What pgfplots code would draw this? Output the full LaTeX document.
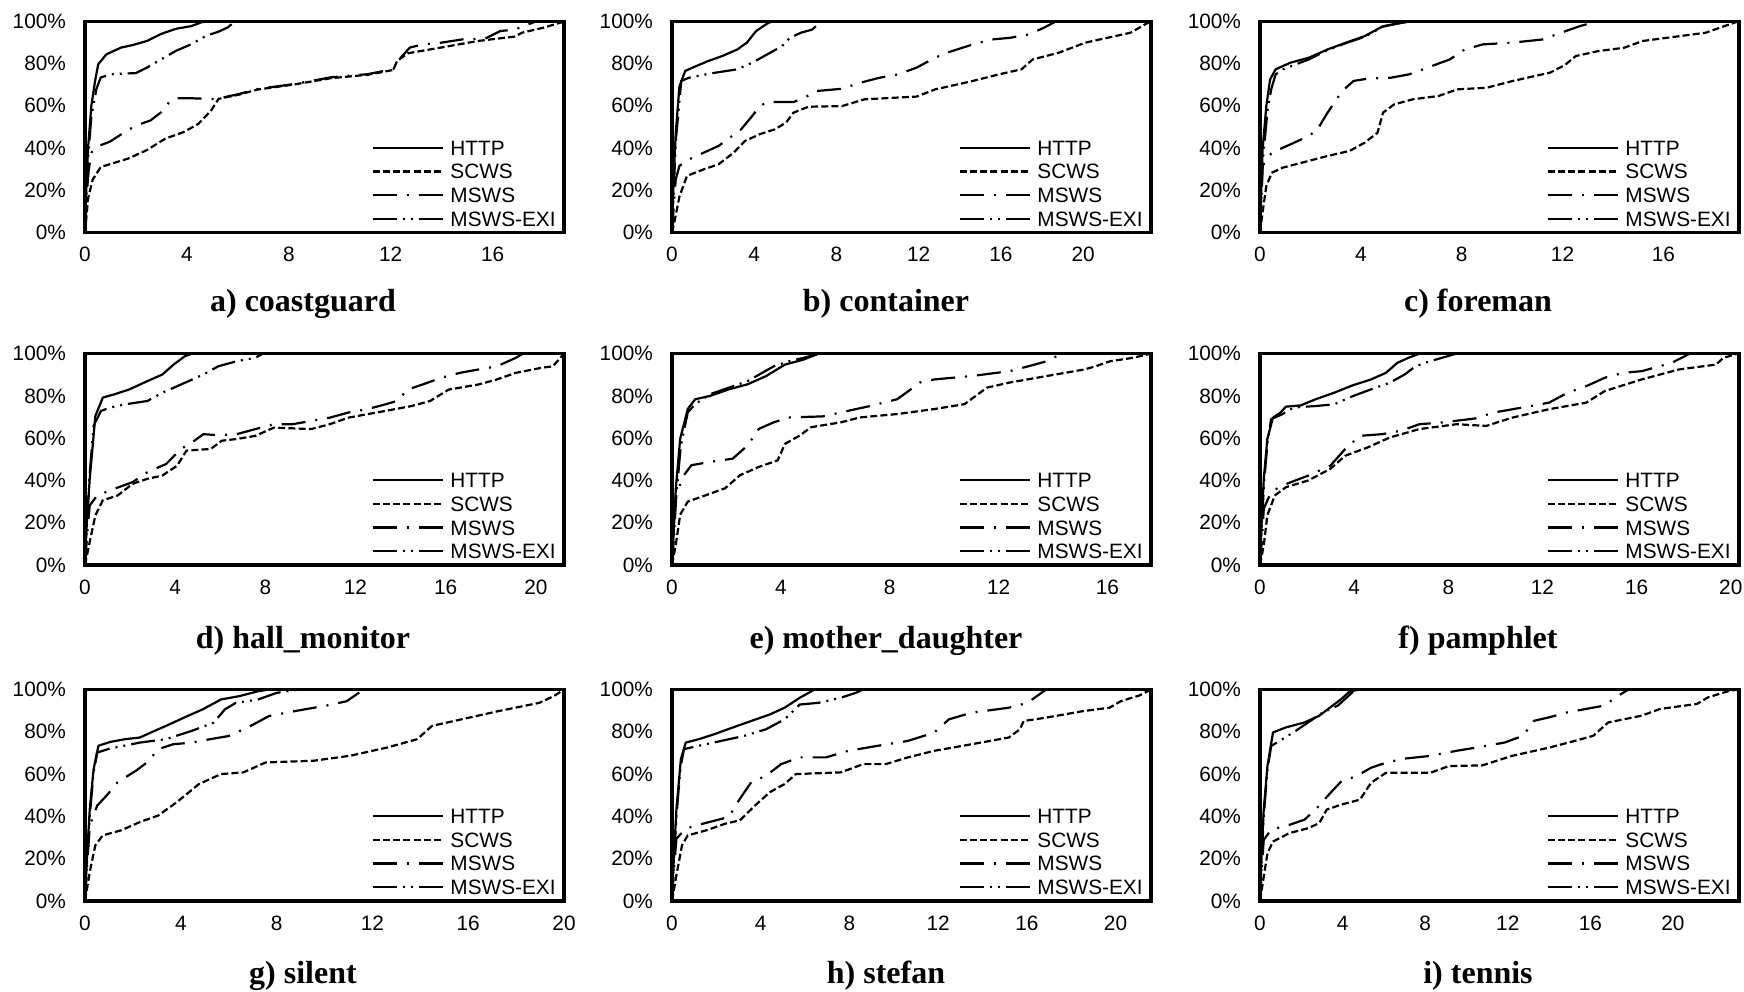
\documentclass[border=0pt]{standalone}
\usepackage{fontspec}
\setmainfont{Liberation Sans}
\newfontfamily\titlefont{Liberation Serif}
\usepackage{pgfplots}
\pgfplotsset{compat=1.18}
\tikzset{
  sHTTP/.style={solid},
  sSCWS/.style={dash pattern=on 3.5pt off 1.6pt},
  sMSWS/.style={dash pattern=on 12pt off 5pt on 1pt off 5pt},
  sEXI/.style={dash pattern=on 12pt off 3pt on 1pt off 3pt on 1pt off 3pt},
  ptitle/.style={anchor=base, font=\titlefont\bfseries\fontsize{16}{18}\selectfont},
}
\pgfplotsset{
  cdf/.style={
    scale only axis, width=239.5pt, height=105.7pt,
    anchor=south west,
    xmin=0, ymin=0, ymax=100,
    ytick={0,20,40,60,80,100},
    xtick distance=4,
    major tick length=0pt,
    axis line style={line width=1.6pt, line cap=rect},
    tick label style={font=\fontsize{10.4}{12}\selectfont},
    yticklabel={\pgfmathprintnumber[assume math mode=true]{\tick}\%},
    xticklabel={\pgfmathprintnumber[assume math mode=true]{\tick}},
    yticklabel style={xshift=-6pt},
    xticklabel style={yshift=-3.9pt},
    legend cell align=left,
    legend style={draw=none, fill=none, at={(1,0)}, anchor=south east,
      inner xsep=4pt, inner ysep=3pt, row sep=4.3pt, column sep=3.3pt,
      font=\fontsize{10.4}{12}\selectfont,
      nodes={inner sep=0pt, text height=7.5pt, text depth=0pt}},
    legend image code/.code={\draw[##1, line width=1.1pt] (0pt,0pt) -- (35pt,0pt);},
    every axis plot/.append style={line width=1.1pt, black, line join=round},
  },
}
\begin{document}
\begin{tikzpicture}
\path[use as bounding box] (0,0) rectangle (872pt,-495.5pt);

% a) coastguard
\begin{axis}[cdf, at={(42.5pt,-116.25pt)}, xmax=18.8]
\addplot[sHTTP] coordinates {(0,0) (0.05,20) (0.12,40) (0.25,60) (0.4,72) (0.52,79.6) (0.84,84.3) (1.42,87.5) (1.85,88.6) (2.43,90.6) (3.0,94) (3.58,96.4) (4.16,97.6) (4.59,99.5) (4.95,100)};
\addlegendentry{HTTP}
\addplot[sSCWS] coordinates {(0,0) (0.12,16) (0.3,25) (0.62,31) (1.7,35) (2.43,39) (3.15,44.4) (3.87,47.5) (4.45,51.4) (4.95,57.7) (5.24,63.2) (6.04,65.2) (6.76,67.6) (8.2,70) (9.65,73) (11.09,74.6) (12.1,76.9) (12.25,81.2) (12.68,84.8) (13.98,87.5) (15.42,90.6) (16.87,92.7) (17.15,94.5) (18.0,96.9) (18.8,99.8)};
\addlegendentry{SCWS}
\addplot[sMSWS] coordinates {(0,0) (0.08,20) (0.15,30) (0.26,38) (0.55,41) (0.98,43) (1.56,47.5) (2.0,50.6) (2.57,53) (3.0,57) (3.3,61.6) (3.58,63.5) (4.16,63.5) (4.88,63.2) (5.17,63.2) (6.04,65.5) (6.76,67.9) (8.2,70.2) (9.65,73.4) (11.09,74.9) (12.1,77.3) (12.4,82.8) (12.75,87.5) (13.26,89) (13.98,89.8) (14.84,91.4) (15.7,91.7) (16.3,95.3) (16.87,96) (17.73,100)};
\addlegendentry{MSWS}
\addplot[sEXI] coordinates {(0,0) (0.05,15) (0.12,35) (0.25,55) (0.45,68) (0.62,73.4) (1.13,75) (2.0,75.4) (2.43,78) (3.0,82) (3.58,86) (4.16,89) (4.74,93) (5.24,95) (5.6,97) (5.9,100)};
\addlegendentry{MSWS-EXI}
\end{axis}

% b) container
\begin{axis}[cdf, at={(336pt,-116.25pt)}, xmax=23.3]
\addplot[sHTTP] coordinates {(0,0) (0.08,25) (0.18,47) (0.36,69) (0.64,76.4) (1.0,78) (1.73,81) (2.45,83.5) (3.18,86.6) (3.64,89.8) (4.09,95.3) (4.64,98.9) (4.9,100)};
\addlegendentry{HTTP}
\addplot[sSCWS] coordinates {(0,0) (0.18,8) (0.36,17) (0.73,26.8) (1.55,29.9) (2.27,32.3) (3.0,37.8) (3.55,43.3) (4.27,46.5) (5.0,48.8) (5.55,52) (5.91,56.7) (6.64,59.5) (8.27,59.8) (9.36,63) (11.9,64.3) (12.8,67.7) (14.64,71.7) (15.9,74.8) (17.0,77.2) (17.55,81.9) (18.8,85) (20.1,89.8) (22.3,94.5) (23.2,99.5) (23.3,100)};
\addlegendentry{SCWS}
\addplot[sMSWS] coordinates {(0,0) (0.08,12) (0.18,25) (0.36,31.5) (0.82,34.6) (1.55,37.8) (2.27,41) (2.82,44.9) (3.36,48.8) (3.9,55.1) (4.27,59.8) (4.64,61.7) (5.91,61.7) (6.45,63.8) (7.0,66.9) (8.27,68) (9.18,70.9) (10.09,73.2) (11.0,74.8) (11.9,78) (12.8,82.7) (13.36,85) (14.64,89) (15.55,91.3) (16.45,92.1) (17.36,93.7) (18.1,96.9) (18.7,100)};
\addlegendentry{MSWS}
\addplot[sEXI] coordinates {(0,0) (0.08,20) (0.2,45) (0.45,71.7) (0.82,73.2) (1.91,75.3) (3.18,77.2) (3.9,80.3) (4.64,84.3) (5.36,88.2) (5.73,92.1) (6.27,94.5) (6.82,96) (7.27,100)};
\addlegendentry{MSWS-EXI}
\end{axis}

% c) foreman
\begin{axis}[cdf, at={(630pt,-116.25pt)}, xmax=19.0]
\addplot[sHTTP] coordinates {(0,0) (0.05,20) (0.1,39) (0.25,59.8) (0.4,72.4) (0.62,77.2) (1.2,80.3) (1.94,82.7) (2.68,86.6) (3.41,89.8) (4.15,92.9) (4.88,97.6) (5.62,99.2) (6.06,100)};
\addlegendentry{HTTP}
\addplot[sSCWS] coordinates {(0,0) (0.1,9.4) (0.25,22) (0.47,28.3) (0.91,30.7) (1.65,33) (2.68,36.2) (3.56,38.6) (4.15,42.5) (4.66,47.2) (4.88,56.7) (5.32,60.6) (6.06,63) (7.09,64.6) (7.82,67.7) (9.0,68.5) (10.03,71.7) (11.5,75.6) (12.09,79.2) (12.53,83.5) (13.41,85.8) (14.44,87.4) (15.18,90.6) (16.65,92.9) (17.68,94.5) (18.41,97.6) (19.0,100)};
\addlegendentry{SCWS}
\addplot[sMSWS] coordinates {(0,0) (0.05,15) (0.1,31.5) (0.47,37.8) (1.06,40.9) (1.65,44.1) (2.24,48) (2.68,56.7) (3.26,66.9) (3.71,71.7) (4.29,72.8) (5.18,73.2) (5.91,74.8) (6.65,78) (7.53,81.9) (8.12,86.6) (8.85,89) (10.0,89.8) (11.2,91.3) (11.94,94.5) (12.68,97.6) (13.4,100)};
\addlegendentry{MSWS}
\addplot[sEXI] coordinates {(0,0) (0.05,15) (0.12,35) (0.3,58) (0.45,68) (0.62,74.8) (0.91,77.2) (1.94,81.9) (2.68,86.3) (3.41,89.6) (4.15,92.6) (4.88,97.4) (5.6,99.2) (6.06,100)};
\addlegendentry{MSWS-EXI}
\end{axis}

% d) hall_monitor
\begin{axis}[cdf, at={(42.5pt,-282.5pt)}, xmax=21.25]
\addplot[sHTTP] coordinates {(0,0) (0.08,20) (0.21,40.8) (0.46,70.5) (0.79,79.2) (1.29,80.7) (1.95,83) (2.77,87) (3.43,90.1) (3.93,94.8) (4.42,98.7) (4.75,100)};
\addlegendentry{HTTP}
\addplot[sSCWS] coordinates {(0,0) (0.21,11) (0.46,23.5) (0.79,30.6) (1.45,32.9) (2.11,38.4) (2.77,40.8) (3.43,42.3) (4.09,47) (4.5,54.1) (5.58,54.9) (6.07,58.8) (6.73,59.6) (7.56,61.1) (8.38,65) (10.03,64.3) (10.86,66.6) (11.68,69.7) (13.33,72.9) (14.49,75.2) (15.31,77.6) (16.14,83) (17.46,85.4) (18.28,87.8) (19.11,90.9) (20.26,93.3) (20.76,94) (21.25,100)};
\addlegendentry{SCWS}
\addplot[sMSWS] coordinates {(0,0) (0.1,15) (0.21,28.2) (0.54,32.9) (1.29,36) (2.11,39.2) (2.77,43.9) (3.6,47.8) (4.26,54.9) (4.75,58) (5.25,61.9) (5.91,61.4) (6.73,61.9) (7.56,64.3) (8.38,66.6) (9.21,66.6) (10.86,69.7) (11.68,72.1) (12.51,73.7) (13.33,76) (13.83,77.6) (14.32,83) (14.98,85.4) (15.81,88.6) (16.63,90.9) (17.46,92.5) (18.28,94) (19.11,98) (19.44,100)};
\addlegendentry{MSWS}
\addplot[sEXI] coordinates {(0,0) (0.08,18) (0.2,42) (0.38,65.8) (0.71,72.9) (1.12,74.5) (1.78,76) (2.77,77.6) (3.43,81.5) (4.26,85.4) (5.25,90.1) (5.91,94) (6.73,96.4) (7.56,98) (7.89,100)};
\addlegendentry{MSWS-EXI}
\end{axis}

% e) mother_daughter
\begin{axis}[cdf, at={(336pt,-282.5pt)}, xmax=17.6]
\addplot[sHTTP] coordinates {(0,0) (0.06,15) (0.14,36.3) (0.3,59.7) (0.58,73.8) (0.85,78.4) (1.4,80) (2.09,83.1) (2.78,85.5) (3.46,89.4) (4.15,94.8) (4.84,97.2) (5.39,100)};
\addlegendentry{HTTP}
\addplot[sSCWS] coordinates {(0,0) (0.14,9.7) (0.3,23.8) (0.58,30) (1.26,33.1) (1.95,36.3) (2.5,42.5) (3.19,46.4) (3.88,49.5) (4.15,57.3) (4.7,61.3) (5.11,65.2) (6.21,67.5) (6.9,69.8) (8.27,71.4) (9.65,73.8) (10.75,76.1) (11.16,80) (11.57,83.9) (12.4,86.3) (13.77,89.4) (15.15,92.5) (15.56,94) (16.1,96.4) (16.93,98) (17.6,100)};
\addlegendentry{SCWS}
\addplot[sMSWS] coordinates {(0,0) (0.06,15) (0.14,33.1) (0.44,42.5) (0.71,47.2) (1.4,48.8) (2.23,50.3) (2.78,56.6) (3.19,64.4) (3.74,67.5) (4.29,69.8) (5.53,70.3) (6.21,72.2) (7.31,75.3) (8.27,78.4) (8.69,82.3) (9.1,86.3) (9.65,87.8) (11.02,89.4) (12.4,91.7) (13.09,94) (13.77,96.4) (14.32,100)};
\addlegendentry{MSWS}
\addplot[sEXI] coordinates {(0,0) (0.06,12) (0.16,33) (0.32,56) (0.58,72.2) (0.85,76.1) (1.4,80.8) (2.09,83.9) (2.78,87) (3.74,94) (4.29,96.4) (4.84,98) (5.39,100)};
\addlegendentry{MSWS-EXI}
\end{axis}

% f) pamphlet
\begin{axis}[cdf, at={(630pt,-282.5pt)}, xmax=20.35]
\addplot[sHTTP] coordinates {(0,0) (0.07,20) (0.16,40.8) (0.31,59.6) (0.55,69.7) (0.87,72.1) (1.1,74.9) (1.73,75.5) (2.36,78.4) (3.15,81.5) (3.94,85) (4.72,87.8) (5.35,90.9) (5.83,95.6) (6.3,98) (6.77,100)};
\addlegendentry{HTTP}
\addplot[sSCWS] coordinates {(0,0) (0.16,9.4) (0.31,23.5) (0.63,32.9) (1.1,36.8) (2.05,40) (2.99,45.5) (3.62,51.7) (4.57,55.6) (5.51,60.3) (6.77,64.3) (8.35,66.6) (9.61,65.8) (10.71,69.7) (12.28,73.7) (13.86,76.8) (14.65,82.3) (16.22,87.8) (17.8,92.5) (19.37,94.8) (19.69,98) (20.3,100)};
\addlegendentry{SCWS}
\addplot[sMSWS] coordinates {(0,0) (0.08,12) (0.16,26.6) (0.47,34.5) (0.94,37.6) (2.05,42.3) (2.99,47) (3.62,54.9) (4.25,61.1) (5.2,61.9) (5.98,63.5) (6.77,66.6) (7.72,67.4) (9.13,69.3) (9.92,72.1) (11.5,75.2) (12.28,76.8) (13.07,81.5) (13.86,84.6) (14.65,88.6) (15.43,90.9) (16.22,91.7) (17.48,95.6) (18.27,100)};
\addlegendentry{MSWS}
\addplot[sEXI] coordinates {(0,0) (0.07,18) (0.18,40) (0.32,58) (0.47,69) (0.94,71.3) (1.42,74.5) (2.36,75.2) (3.15,76) (3.94,79.9) (4.72,83.1) (5.51,86.2) (6.14,90.1) (6.61,94) (7.09,95.9) (7.72,98) (8.35,100)};
\addlegendentry{MSWS-EXI}
\end{axis}

% g) silent
\begin{axis}[cdf, at={(42.5pt,-450.45pt)}, xmax=20.0]
\addplot[sHTTP] coordinates {(0,0) (0.08,20) (0.2,43.6) (0.36,62.4) (0.56,73.4) (1.05,75.2) (1.67,76.5) (2.29,77.3) (2.9,80.4) (3.52,83.5) (4.29,87.5) (4.91,90.6) (5.68,95.3) (6.46,96.9) (7.23,99.2) (7.69,100)};
\addlegendentry{HTTP}
\addplot[sSCWS] coordinates {(0,0) (0.2,13.8) (0.43,26.3) (0.74,31) (1.51,33.4) (2.29,37.3) (3.06,40.4) (3.83,46.7) (4.76,55.3) (5.68,60) (6.61,60.8) (7.54,65.5) (9.54,66.3) (11.09,68.7) (12.63,72.6) (13.87,76.5) (14.49,82.8) (15.72,85.9) (17.27,89.8) (18.97,93.7) (19.58,96.9) (20.0,100)};
\addlegendentry{SCWS}
\addplot[sMSWS] coordinates {(0,0) (0.08,15) (0.2,35.7) (0.51,45.1) (0.9,49.8) (1.36,56.1) (2.13,61.6) (2.59,65.5) (3.06,71.8) (3.68,74.1) (4.45,74.9) (5.22,76.5) (6.0,78) (6.92,82.8) (7.69,87.5) (8.77,89.8) (10.32,92.9) (10.93,94.5) (11.63,100)};
\addlegendentry{MSWS}
\addplot[sEXI] coordinates {(0,0) (0.08,18) (0.2,40) (0.35,60) (0.51,70.2) (1.05,72.1) (2.29,74.9) (3.37,76.5) (4.45,80.4) (5.37,84.3) (5.84,90.6) (6.3,93.7) (7.23,95.3) (8.0,98.4) (8.93,100)};
\addlegendentry{MSWS-EXI}
\end{axis}

% h) stefan
\begin{axis}[cdf, at={(336pt,-450.45pt)}, xmax=21.6]
\addplot[sHTTP] coordinates {(0,0) (0.08,20) (0.2,43.6) (0.4,67.1) (0.62,74.9) (1.21,76.5) (1.89,78.8) (2.73,82) (3.57,85.1) (4.41,88.2) (5.08,91.4) (5.76,96.1) (6.43,100)};
\addlegendentry{HTTP}
\addplot[sSCWS] coordinates {(0,0) (0.2,12.2) (0.45,26.3) (0.71,31) (1.55,33.4) (2.39,36.5) (3.06,38.1) (3.74,45.1) (4.41,51.4) (5.08,55.3) (5.59,60) (7.61,60.8) (8.62,64.7) (9.63,64.7) (10.64,67.9) (11.82,71) (13.5,74.1) (15.19,77.3) (15.69,81.2) (15.86,85.1) (16.87,86.7) (18.55,89.8) (19.73,91.4) (20.24,94.5) (21.08,97.2) (21.6,100)};
\addlegendentry{SCWS}
\addplot[sMSWS] coordinates {(0,0) (0.08,14) (0.2,29.5) (0.62,34.2) (1.38,36.5) (2.56,39.7) (3.06,48.3) (3.57,56.1) (4.24,59.2) (4.92,64.7) (5.76,67.9) (6.94,67.9) (7.95,71) (9.29,73.4) (10.64,75.7) (11.82,79.6) (12.49,85.9) (13.5,89) (15.19,91.4) (16.03,93.7) (16.87,100)};
\addlegendentry{MSWS}
\addplot[sEXI] coordinates {(0,0) (0.08,18) (0.2,40) (0.38,63) (0.54,71.8) (1.04,73) (2.22,75.7) (3.23,78) (4.24,81.2) (5.08,85.9) (5.76,92.9) (6.6,93.7) (7.61,96.1) (8.28,98.4) (8.62,100)};
\addlegendentry{MSWS-EXI}
\end{axis}

% i) tennis
\begin{axis}[cdf, at={(630pt,-450.45pt)}, xmax=23.2]
\addplot[sHTTP] coordinates {(0,0) (0.07,20) (0.18,43.2) (0.36,63.8) (0.63,79.7) (1.26,82.1) (2.15,84.4) (2.87,87.6) (3.41,91.6) (3.95,95.6) (4.3,98.7) (4.75,100)};
\addlegendentry{HTTP}
\addplot[sSCWS] coordinates {(0,0) (0.18,11.4) (0.36,22.5) (0.63,28.1) (1.43,32.1) (2.33,34.4) (2.87,36.8) (3.23,43.2) (3.95,45.6) (4.84,47.9) (5.38,55.9) (6.1,60.6) (8.25,60.6) (9.15,63.8) (10.76,64.1) (12.2,68.6) (13.99,72.5) (15.25,75.7) (16.14,78.1) (16.86,84.4) (18.48,87.6) (19.37,90.8) (21.17,93.2) (21.7,96.3) (22.78,99.5) (23.2,100)};
\addlegendentry{SCWS}
\addplot[sMSWS] coordinates {(0,0) (0.08,14) (0.18,28.9) (0.54,33.7) (1.43,36) (2.15,38.4) (2.69,43.2) (3.41,51.1) (3.95,56.7) (4.66,59) (5.38,63) (6.1,65.4) (6.99,67.3) (8.25,68.6) (9.51,71) (10.76,73) (11.84,74.9) (12.74,78.1) (13.27,85.2) (13.99,86.8) (14.89,89.2) (15.78,90.8) (16.68,92.4) (17.22,96.3) (17.85,100)};
\addlegendentry{MSWS}
\addplot[sEXI] coordinates {(0,0) (0.07,18) (0.18,40) (0.36,62) (0.54,73.3) (1.08,76.5) (1.61,79.7) (2.33,84.4) (3.05,89.2) (3.77,92.4) (4.13,95.6) (4.48,98.7) (4.84,100)};
\addlegendentry{MSWS-EXI}
\end{axis}

\node[ptitle] at (151.5pt,-155.7pt) {a) coastguard};
\node[ptitle] at (443pt,-155.7pt) {b) container};
\node[ptitle] at (739pt,-155.7pt) {c) foreman};
\node[ptitle] at (151.5pt,-324.1pt) {d) hall\_monitor};
\node[ptitle] at (443pt,-324.1pt) {e) mother\_daughter};
\node[ptitle] at (739pt,-324.1pt) {f) pamphlet};
\node[ptitle] at (151.5pt,-491.8pt) {g) silent};
\node[ptitle] at (443pt,-491.8pt) {h) stefan};
\node[ptitle] at (739pt,-491.8pt) {i) tennis};
\end{tikzpicture}
\end{document}
